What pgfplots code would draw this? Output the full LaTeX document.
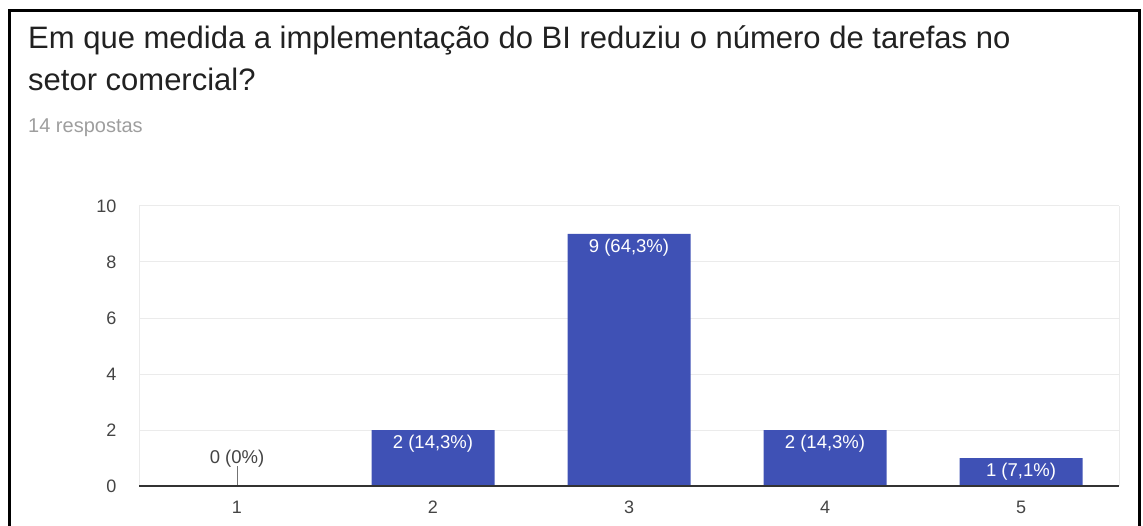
\documentclass[border=0pt]{standalone}
\usepackage{pgfplots}
\pgfplotsset{compat=1.18}
\usepackage{fontspec}
\setmainfont{Liberation Sans}
\definecolor{barblue}{HTML}{3F51B5}
\definecolor{gridgray}{HTML}{EBEBEB}
\definecolor{ticktext}{HTML}{444444}
\definecolor{subgray}{HTML}{9E9E9E}
\definecolor{titletext}{HTML}{212121}
\begin{document}
\begin{tikzpicture}[x=1pt,y=1pt]
\useasboundingbox (0,0) rectangle (1143,-526);
\draw[line width=2.5pt] (9.5,-560) -- (9.5,-10.5) -- (1139.5,-10.5) -- (1139.5,-560);
\node[anchor=base west, inner sep=0, text=titletext, font=\fontsize{31}{36}\selectfont] at (28,-49) {Em que medida a implementação do BI reduziu o número de tarefas no};
\node[anchor=base west, inner sep=0, text=titletext, font=\fontsize{31}{36}\selectfont] at (28,-91) {setor comercial?};
\node[anchor=base west, inner sep=0, text=subgray, font=\fontsize{20}{24}\selectfont] at (28,-133) {14 respostas};
\begin{axis}[
  at={(139pt,-486pt)}, anchor=south west,
  scale only axis, width=980pt, height=280pt,
  xmin=0.5, xmax=5.5, ymin=0, ymax=10,
  xtick={1,2,3,4,5}, ytick={0,2,4,6,8,10},
  major tick length=0pt,
  axis line style={draw=none},
  ymajorgrids, grid style={color=gridgray, line width=1pt},
  /pgf/number format/assume math mode=true,
  tick label style={font=\fontsize{18}{21}\selectfont, text=ticktext},
  xticklabel style={anchor=base, yshift=-27pt},
  yticklabel style={anchor=base east, xshift=-19pt, yshift=-6.5pt},
  clip=false,
]
\draw[gridgray, line width=1pt] (axis cs:0.5,0) -- (axis cs:0.5,10);
\draw[gridgray, line width=1pt] (axis cs:5.5,0) -- (axis cs:5.5,10);
\addplot[ybar, bar width=123pt, fill=barblue, draw=none,
  point meta=explicit symbolic,
  nodes near coords,
  nodes near coords style={anchor=base, yshift=-18.5pt, text=white, font=\fontsize{18.5}{21}\selectfont}]
  coordinates {(2,2) [2 (14,3\%)] (3,9) [9 (64,3\%)] (4,2) [2 (14,3\%)] (5,1) [1 (7,1\%)]};
\addplot[ybar, bar width=123pt, fill=barblue, draw=none,
  point meta=explicit symbolic,
  nodes near coords,
  nodes near coords style={anchor=base, yshift=23pt, text=ticktext, font=\fontsize{18.5}{21}\selectfont}]
  coordinates {(1,0) [0 (0\%)]};
\draw[color=black!55, line width=1pt] (axis cs:1,0) -- (axis cs:1,0.72);
\draw[color=black!80, line width=1.5pt] (axis cs:0.5,0) -- (axis cs:5.5,0);
\end{axis}
\end{tikzpicture}
\end{document}
